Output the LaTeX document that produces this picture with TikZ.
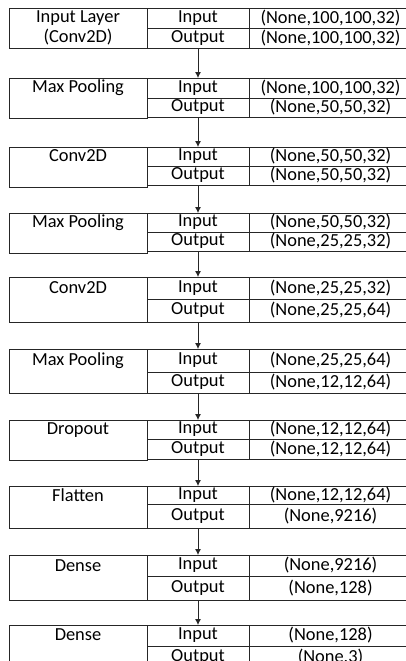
\documentclass[tikz,border=0pt]{standalone}
\usepackage{fontspec}
\setmainfont{Carlito}
\usepackage{tikz}
\usetikzlibrary{arrows.meta, positioning}

\begin{document}
\begin{tikzpicture}[x=0.75pt, y=-0.75pt,
        cell/.style={draw=black!85, line width=0.6pt, inner sep=0pt, outer sep=0pt, anchor=north west, align=center,
            font=\fontsize{13.8}{15}\selectfont},
        namecell/.style={cell, minimum width=103.5pt},
        iocell/.style={cell, minimum width=76.5pt},
        dimcell/.style={cell, minimum width=122.25pt},
        flow/.style={draw=black!85, line width=0.6pt, -{Latex[length=4.5pt, width=4.5pt]}}]
    \path[fill=white, use as bounding box] (0,0) rectangle (406,661);
    \clip (0,0) rectangle (406,661);
    % one block per layer: index/top/mid/bottom/name/second line/input shape/output shape
    \foreach \i/\t/\m/\b/\nameA/\nameB/\si/\so in {
        1/8/28/48/{Input Layer}/{(Conv2D)}/{(None,100,100,32)}/{(None,100,100,32)},
        2/78/98/117/{Max Pooling}/{}/{(None,100,100,32)}/{(None,50,50,32)},
        3/147/166/185/{Conv2D}/{}/{(None,50,50,32)}/{(None,50,50,32)},
        4/213/232/251/{Max Pooling}/{}/{(None,50,50,32)}/{(None,25,25,32)},
        5/277/299/322/{Conv2D}/{}/{(None,25,25,32)}/{(None,25,25,64)},
        6/349/372/393/{Max Pooling}/{}/{(None,25,25,64)}/{(None,12,12,64)},
        7/420/439/459/{Dropout}/{}/{(None,12,12,64)}/{(None,12,12,64)},
        8/486/504/528/{Flatten}/{}/{(None,12,12,64)}/{(None,9216)},
        9/555/576/600/{Dense}/{}/{(None,9216)}/{(None,128)},
        10/625/646/668/{Dense}/{}/{(None,128)}/{(None,3)}} {
        \pgfmathsetmacro{\hIn}{(\m-\t)*0.75}
        \pgfmathsetmacro{\hOut}{(\b-\m)*0.75}
        \pgfmathsetmacro{\hAll}{(\b-\t)*0.75}
        \node[namecell, minimum height=\hAll pt] (name\i) at (9,\t) {\strut\nameA\\\strut\nameB};
        \node[iocell, minimum height=\hIn pt] (in\i) at (147,\t) {Input};
        \node[iocell, minimum height=\hOut pt] (out\i) at (147,\m) {Output};
        \node[dimcell, minimum height=\hIn pt] (shin\i) at (249,\t) {\si};
        \node[dimcell, minimum height=\hOut pt] (shout\i) at (249,\m) {\so};
    }
    % arrows between consecutive layers
    \foreach \i [evaluate=\i as \j using int(\i+1)] in {1,...,9}
        \draw[flow] (out\i.south) -- (in\j.north);
\end{tikzpicture}
\end{document}
